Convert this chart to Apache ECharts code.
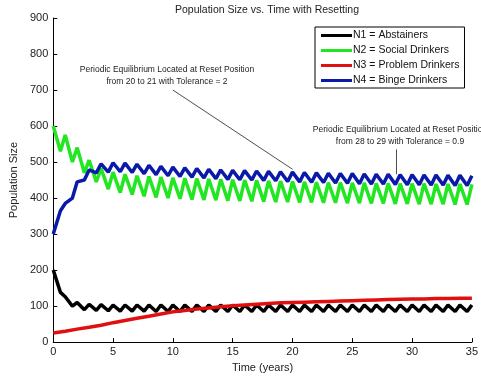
<!DOCTYPE html>
<html>
<head>
<meta charset="utf-8">
<script src="https://cdn.jsdelivr.net/npm/echarts@6/dist/echarts.min.js"></script>
<style>
html, body { margin: 0; padding: 0; background: #fff; }
#container { width: 481px; height: 378px; }
</style>
</head>
<body>
<div id="container"></div>
<script>
var dom = document.getElementById("container");
var myChart = echarts.init(dom);

// reset happens every year; peak right after reset, trough before next one
var resetTimes = [0,1,2,3,4,5,6,7,8,9,10,11,12,13,14,15,16,17,18,19,20,21,22,23,24,25,26,27,28,29,30,31,32,33,34,35];
var troughOffset = 0.6;

var n1Peaks = [200,126,110,105,104,103,103,103,103,103,103,103,103,103,103,103,103,103,103,103,103,103,103,103,103,103,103,103,103,103,103,103,103,103,103,103];
var n1Troughs = [138,100,90,88,87,86,86,86,85,85,85,85,85,85,85,85,85,85,85,85,85,85,85,85,85,85,85,85,85,85,85,85,85,85,85];

var n2Peaks = [600,575,540,505,482,472,466,462,460,458,456,455,454,453,452,451,450,449,448,447,446,445,444,443,443,442,442,441,441,440,440,440,439,439,439,438];
var n2Troughs = [530,500,470,445,425,415,410,405,402,400,398,396,395,394,393,392,391,390,389,389,388,388,387,387,386,386,385,385,384,384,383,383,383,382,382];

var n4Peaks = [300,385,445,478,495,498,497,494,491,488,486,484,482,480,478,477,476,475,474,473,472,471,470,469,468,468,467,466,466,465,465,464,464,463,463,462];
var n4Troughs = [365,400,450,470,472,473,471,468,465,462,460,458,456,454,452,451,450,449,448,446,445,444,443,442,441,440,439,439,438,437,437,436,436,435,435];

var n3Values = [25,30,36,41,47,54,60,66,72,78,84,88,92,95,98,101,103,105,107,109,110,111,112,113,114,115,116,117,118,119,120,120,121,121,122,122];

// annotation pointer lines, in data units
var note1Line = [[10,700],[20,480]];
var note2Line = [[28.7,535],[28.7,466]];

function sawtooth(peaks, troughs) {
    var pts = [];
    for (var i = 0; i < resetTimes.length; i++) {
        pts.push([resetTimes[i], peaks[i]]);
        if (i < troughs.length) pts.push([resetTimes[i] + troughOffset, troughs[i]]);
    }
    return pts;
}

var n3Data = [];
for (var i = 0; i < resetTimes.length; i++) n3Data.push([resetTimes[i], n3Values[i]]);

var font = '"Liberation Sans", Arial, sans-serif';

function lineSeries(name, color, data) {
    return {
        name: name,
        type: 'line',
        data: data,
        showSymbol: false,
        symbol: 'none',
        lineStyle: { color: color, width: 3.5 },
        itemStyle: { color: color },
        animation: false,
        z: 3
    };
}

var option = {
    animation: false,
    backgroundColor: '#fff',
    title: {
        text: 'Population Size vs. Time with Resetting',
        left: 262,
        textAlign: 'center',
        top: 0,
        textStyle: { fontFamily: font, fontSize: 10.5, fontWeight: 'normal', color: '#222' }
    },
    grid: { left: 48, right: 4, top: 18, bottom: 35 },
    legend: {
        orient: 'vertical',
        left: 315,
        top: 27,
        padding: [2, 5, 1, 6],
        itemGap: 2,
        itemWidth: 31,
        itemHeight: 3,
        icon: 'rect',
        borderColor: '#000',
        borderWidth: 1,
        backgroundColor: '#fff',
        textStyle: { fontFamily: font, fontSize: 10.5, color: '#111', lineHeight: 13, padding: [0, 0, 0, -4] },
        data: ['N1 = Abstainers', 'N2 = Social Drinkers', 'N3 = Problem Drinkers', 'N4 = Binge Drinkers']
    },
    xAxis: {
        type: 'value',
        min: 0,
        max: 35,
        interval: 5,
        name: 'Time (years)',
        nameLocation: 'middle',
        nameGap: 18,
        nameTextStyle: { fontFamily: font, fontSize: 11, color: '#222' },
        axisLine: { show: true, lineStyle: { color: '#000', width: 1 } },
        axisTick: { show: true, inside: true, length: 4, lineStyle: { color: '#000' } },
        axisLabel: { fontFamily: font, fontSize: 11, color: '#222', margin: 4 },
        splitLine: { show: false }
    },
    yAxis: {
        type: 'value',
        min: 0,
        max: 900,
        interval: 100,
        name: 'Population Size',
        nameLocation: 'middle',
        nameGap: 27,
        nameTextStyle: { fontFamily: font, fontSize: 11, color: '#222' },
        axisLine: { show: true, lineStyle: { color: '#000', width: 1 } },
        axisTick: { show: true, inside: true, length: 4, lineStyle: { color: '#000' } },
        axisLabel: { fontFamily: font, fontSize: 11, color: '#222', margin: 5 },
        splitLine: { show: false }
    },
    graphic: [
        {
            type: 'text',
            style: {
                x: 167, y: 64,
                text: 'Periodic Equilibrium Located at Reset Position\nfrom 20 to 21 with Tolerance = 2',
                textAlign: 'center', font: '8.5px ' + font, fill: '#222', lineHeight: 12
            }
        },
        {
            type: 'text',
            style: {
                x: 400, y: 124,
                text: 'Periodic Equilibrium Located at Reset Position\nfrom 28 to 29 with Tolerance = 0.9',
                textAlign: 'center', font: '8.5px ' + font, fill: '#222', lineHeight: 12
            }
        }
    ],
    series: [
        lineSeries('N1 = Abstainers', '#000000', sawtooth(n1Peaks, n1Troughs)),
        lineSeries('N2 = Social Drinkers', '#22e622', sawtooth(n2Peaks, n2Troughs)),
        lineSeries('N3 = Problem Drinkers', '#e01010', n3Data),
        lineSeries('N4 = Binge Drinkers', '#0a1aa8', sawtooth(n4Peaks, n4Troughs)),
        {
            type: 'line',
            data: [],
            markLine: {
                silent: true,
                symbol: 'none',
                animation: false,
                label: { show: false },
                lineStyle: { color: '#222', width: 0.8, type: 'solid' },
                data: [
                    [{ coord: note1Line[0] }, { coord: note1Line[1] }],
                    [{ coord: note2Line[0] }, { coord: note2Line[1] }]
                ]
            }
        }
    ]
};

if (option && typeof option === 'object') {
    myChart.setOption(option);
}
</script>
</body>
</html>
